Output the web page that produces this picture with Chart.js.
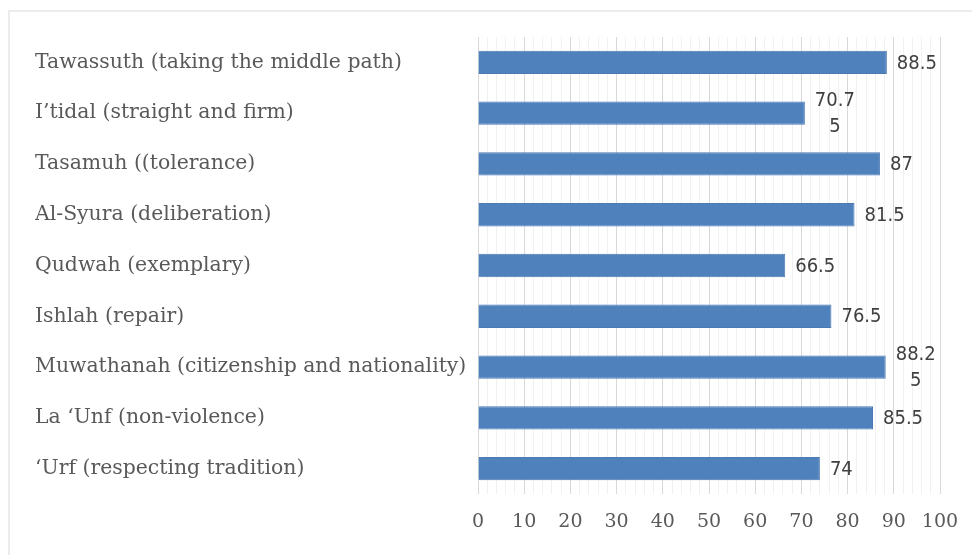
<!DOCTYPE html>
<html>
<head>
<meta charset="utf-8">
<script src="https://cdn.jsdelivr.net/npm/chart.js@4/dist/chart.umd.min.js"></script>
<style>
  html, body { margin: 0; padding: 0; background: #fff; }
  #frame { position: absolute; left: 8px; top: 10px; width: 964px; height: 545px;
           border-left: 2px solid #ececec; border-top: 2px solid #ececec; box-sizing: border-box; }
  #wrap { position: absolute; left: 0; top: 0; width: 972px; height: 555px; }
</style>
</head>
<body>
<div id="frame"></div>
<div id="wrap"><canvas id="c" width="972" height="555"></canvas></div>
<script>
// categories, top to bottom
const categories = [
  'Tawassuth (taking the middle path)',
  'I\u2019tidal (straight and firm)',
  'Tasamuh ((tolerance)',
  'Al-Syura (deliberation)',
  'Qudwah (exemplary)',
  'Ishlah (repair)',
  'Muwathanah (citizenship and nationality)',
  'La \u2018Unf (non-violence)',
  '\u2018Urf (respecting tradition)'
];
const scores = [88.5, 70.75, 87, 81.5, 66.5, 76.5, 88.25, 85.5, 74];
const axisMin = 0;
const axisMax = 100;
const majorStep = 10;
const minorStep = 2;

const serif = '"DejaVu Serif", serif';

// value labels right of each bar; long numbers wrap like the original (4 chars per line)
const valueLabels = {
  id: 'valueLabels',
  afterDatasetsDraw(chart) {
    const ctx = chart.ctx;
    const meta = chart.getDatasetMeta(0);
    ctx.save();
    ctx.font = '20px "DejaVu Sans Condensed", "DejaVu Sans", sans-serif';
    ctx.fillStyle = '#404040';
    ctx.textBaseline = 'middle';
    ctx.textAlign = 'center';
    meta.data.forEach((bar, i) => {
      const txt = String(scores[i]);
      const lines = [];
      for (let k = 0; k < txt.length; k += 4) lines.push(txt.slice(k, k + 4));
      const w = Math.max(...lines.map(l => ctx.measureText(l).width));
      const cx = bar.x + 10 + w / 2;
      const lh = 26;
      const y0 = bar.y + 1 - (lines.length - 1) * lh / 2;
      lines.forEach((l, j) => ctx.fillText(l, cx, y0 + j * lh));
    });
    ctx.restore();
  }
};

new Chart(document.getElementById('c'), {
  type: 'bar',
  data: {
    labels: categories,
    datasets: [{
      data: scores,
      backgroundColor: '#4f81bd',
      borderColor: '#4a7ab4',
      borderWidth: 1,
      barPercentage: 0.92,
      categoryPercentage: 0.5
    }]
  },
  options: {
    indexAxis: 'y',
    responsive: false,
    animation: false,
    layout: { padding: { left: 35, top: 37, right: 32, bottom: 0 } },
    plugins: { legend: { display: false }, tooltip: { enabled: false } },
    scales: {
      x: {
        min: axisMin,
        max: axisMax,
        border: { display: false },
        afterFit: s => { s.height = 61; s.paddingLeft = 0; s.paddingRight = 0; },
        grid: {
          color: ctx => (ctx.tick && ctx.tick.value % majorStep === 0) ? '#d9d9d9' : '#f1f1f1',
          drawTicks: false
        },
        ticks: {
          stepSize: minorStep,
          autoSkip: false,
          maxRotation: 0,
          padding: 17,
          color: '#595959',
          font: { family: serif, size: 19 },
          callback: v => (v % majorStep === 0 ? String(v) : '')
        }
      },
      y: {
        border: { display: false },
        grid: { display: false },
        afterFit: s => { s.width = 443; },
        ticks: {
          crossAlign: 'far',
          color: '#595959',
          font: { family: serif, size: 20.4 }
        }
      }
    }
  },
  plugins: [valueLabels]
});
</script>
</body>
</html>
